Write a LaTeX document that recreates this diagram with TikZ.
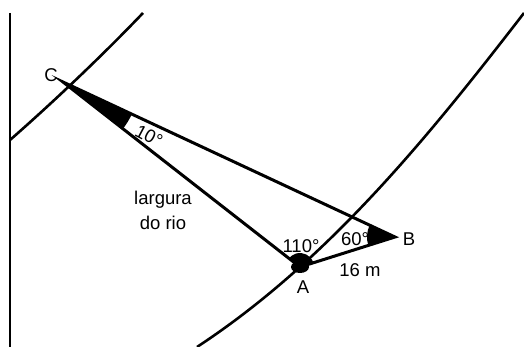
\documentclass[tikz,border=0pt]{standalone}
\usepackage{fontspec}
\setmainfont{Liberation Sans}
\usetikzlibrary{calc,angles}
\tikzset{bank/.style={line width=2.6pt}, side/.style={line width=3pt, line join=miter}, frameline/.style={line width=1.4pt}, wedge/.style={fill=black, draw=none}, lbl/.style={inner sep=0pt, align=center, font=\fontsize{18.5}{25}\selectfont}}

\begin{document}
\begin{tikzpicture}[x=1pt,y=1pt]
\useasboundingbox (0,0) rectangle (524,347);
\coordinate (C) at (63,265); \coordinate (A) at (300,80); \coordinate (B) at (395,110);
\draw[frameline] (10,334)--(10,0);
\begin{scope}
\clip (10,0) rectangle (524,334);
\draw[bank] (10,207) .. controls (50,242) and (100,289) .. (143,334);
\draw[bank] (197,0) .. controls (328,86) and (429,211) .. (524,334);
\end{scope}
\node[lbl] (cname) at (51,272) {C};
\node[lbl,rotate=-28] (cangle) at (149,211) {10°};
\node[lbl] (width) at (163,137) {largura\\do rio};
\node[lbl] (aangle) at (301,101) {110°};
\node[lbl] (bangle) at (355,108) {60°};
\node[lbl] (bname) at (409,108) {B};
\node[lbl] (dist) at (360,77) {16 m};
\node[lbl] (aname) at (303,60) {A};
\draw[side] (C)--(A)--(B)--cycle;
\pic[wedge, angle radius=76pt] {angle=A--C--B}; \pic[wedge, angle radius=28pt] {angle=C--B--A}; \pic[wedge, angle radius=14pt] {angle=B--A--C};
\fill (A) ellipse (9pt and 6pt);
\end{tikzpicture}
\end{document}
